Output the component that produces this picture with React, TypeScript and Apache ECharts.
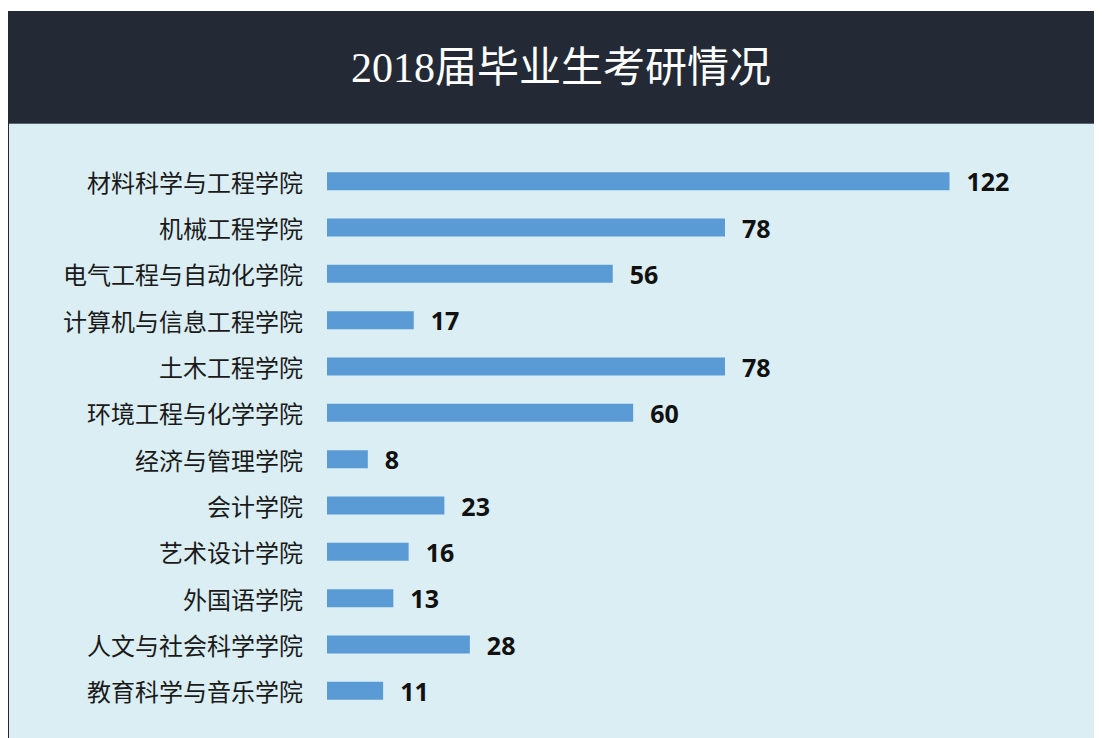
import React, { useEffect, useRef } from "react";
import * as echarts from "echarts";

const title = "2018届毕业生考研情况";
const categories = [
  "材料科学与工程学院",
  "机械工程学院",
  "电气工程与自动化学院",
  "计算机与信息工程学院",
  "土木工程学院",
  "环境工程与化学学院",
  "经济与管理学院",
  "会计学院",
  "艺术设计学院",
  "外国语学院",
  "人文与社会科学学院",
  "教育科学与音乐学院",
];
const values = [122, 78, 56, 17, 78, 60, 8, 23, 16, 13, 28, 11];

export default function App() {
  const ref = useRef<HTMLDivElement>(null);
  useEffect(() => {
    if (!ref.current) return;
    const chart = echarts.init(ref.current, null, { renderer: "svg" });
    chart.setOption({
      animation: false,
      backgroundColor: "#daeef3",
      graphic: [
        {
          type: "rect",
          left: 0,
          top: 0,
          shape: { width: 1094, height: 112 },
          style: { fill: "#232a35" },
        },
        {
          type: "rect",
          left: 0,
          top: 112,
          shape: { width: 1094, height: 1 },
          style: { fill: "#5a6371" },
        },
        {
          type: "rect",
          left: 0,
          top: 112,
          shape: { width: 1, height: 620 },
          style: { fill: "#232a35" },
        },
        {
          type: "text",
          x: 553,
          y: 57,
          style: {
            text: title,
            fill: "#ffffff",
            fontSize: 42,
            fontFamily: "'Liberation Serif', 'Noto Sans CJK SC', serif",
            align: "center",
            verticalAlign: "middle",
          },
        },
      ],
      grid: { left: 319, right: 152.5, top: 147, bottom: 24, containLabel: false },
      xAxis: {
        type: "value",
        min: 0,
        max: 122,
        show: false,
      },
      yAxis: {
        type: "category",
        data: categories,
        inverse: true,
        axisLine: { show: false },
        axisTick: { show: false },
        axisLabel: {
          margin: 24,
          fontSize: 24,
          color: "#1a1a1a",
          fontFamily: "'Noto Sans CJK SC', serif",
        },
      },
      series: [
        {
          type: "bar",
          data: values,
          barWidth: 18,
          itemStyle: { color: "#5b9bd5" },
          label: {
            show: true,
            position: "right",
            distance: 17,
            fontSize: 25,
            fontWeight: "bold",
            color: "#111111",
            fontFamily: "'Open Sans', sans-serif",
          },
        },
      ],
    });
    return () => chart.dispose();
  }, []);
  return (
    <div
      ref={ref}
      style={{ width: 1094, height: 727, marginTop: 3 }}
    />
  );
}
